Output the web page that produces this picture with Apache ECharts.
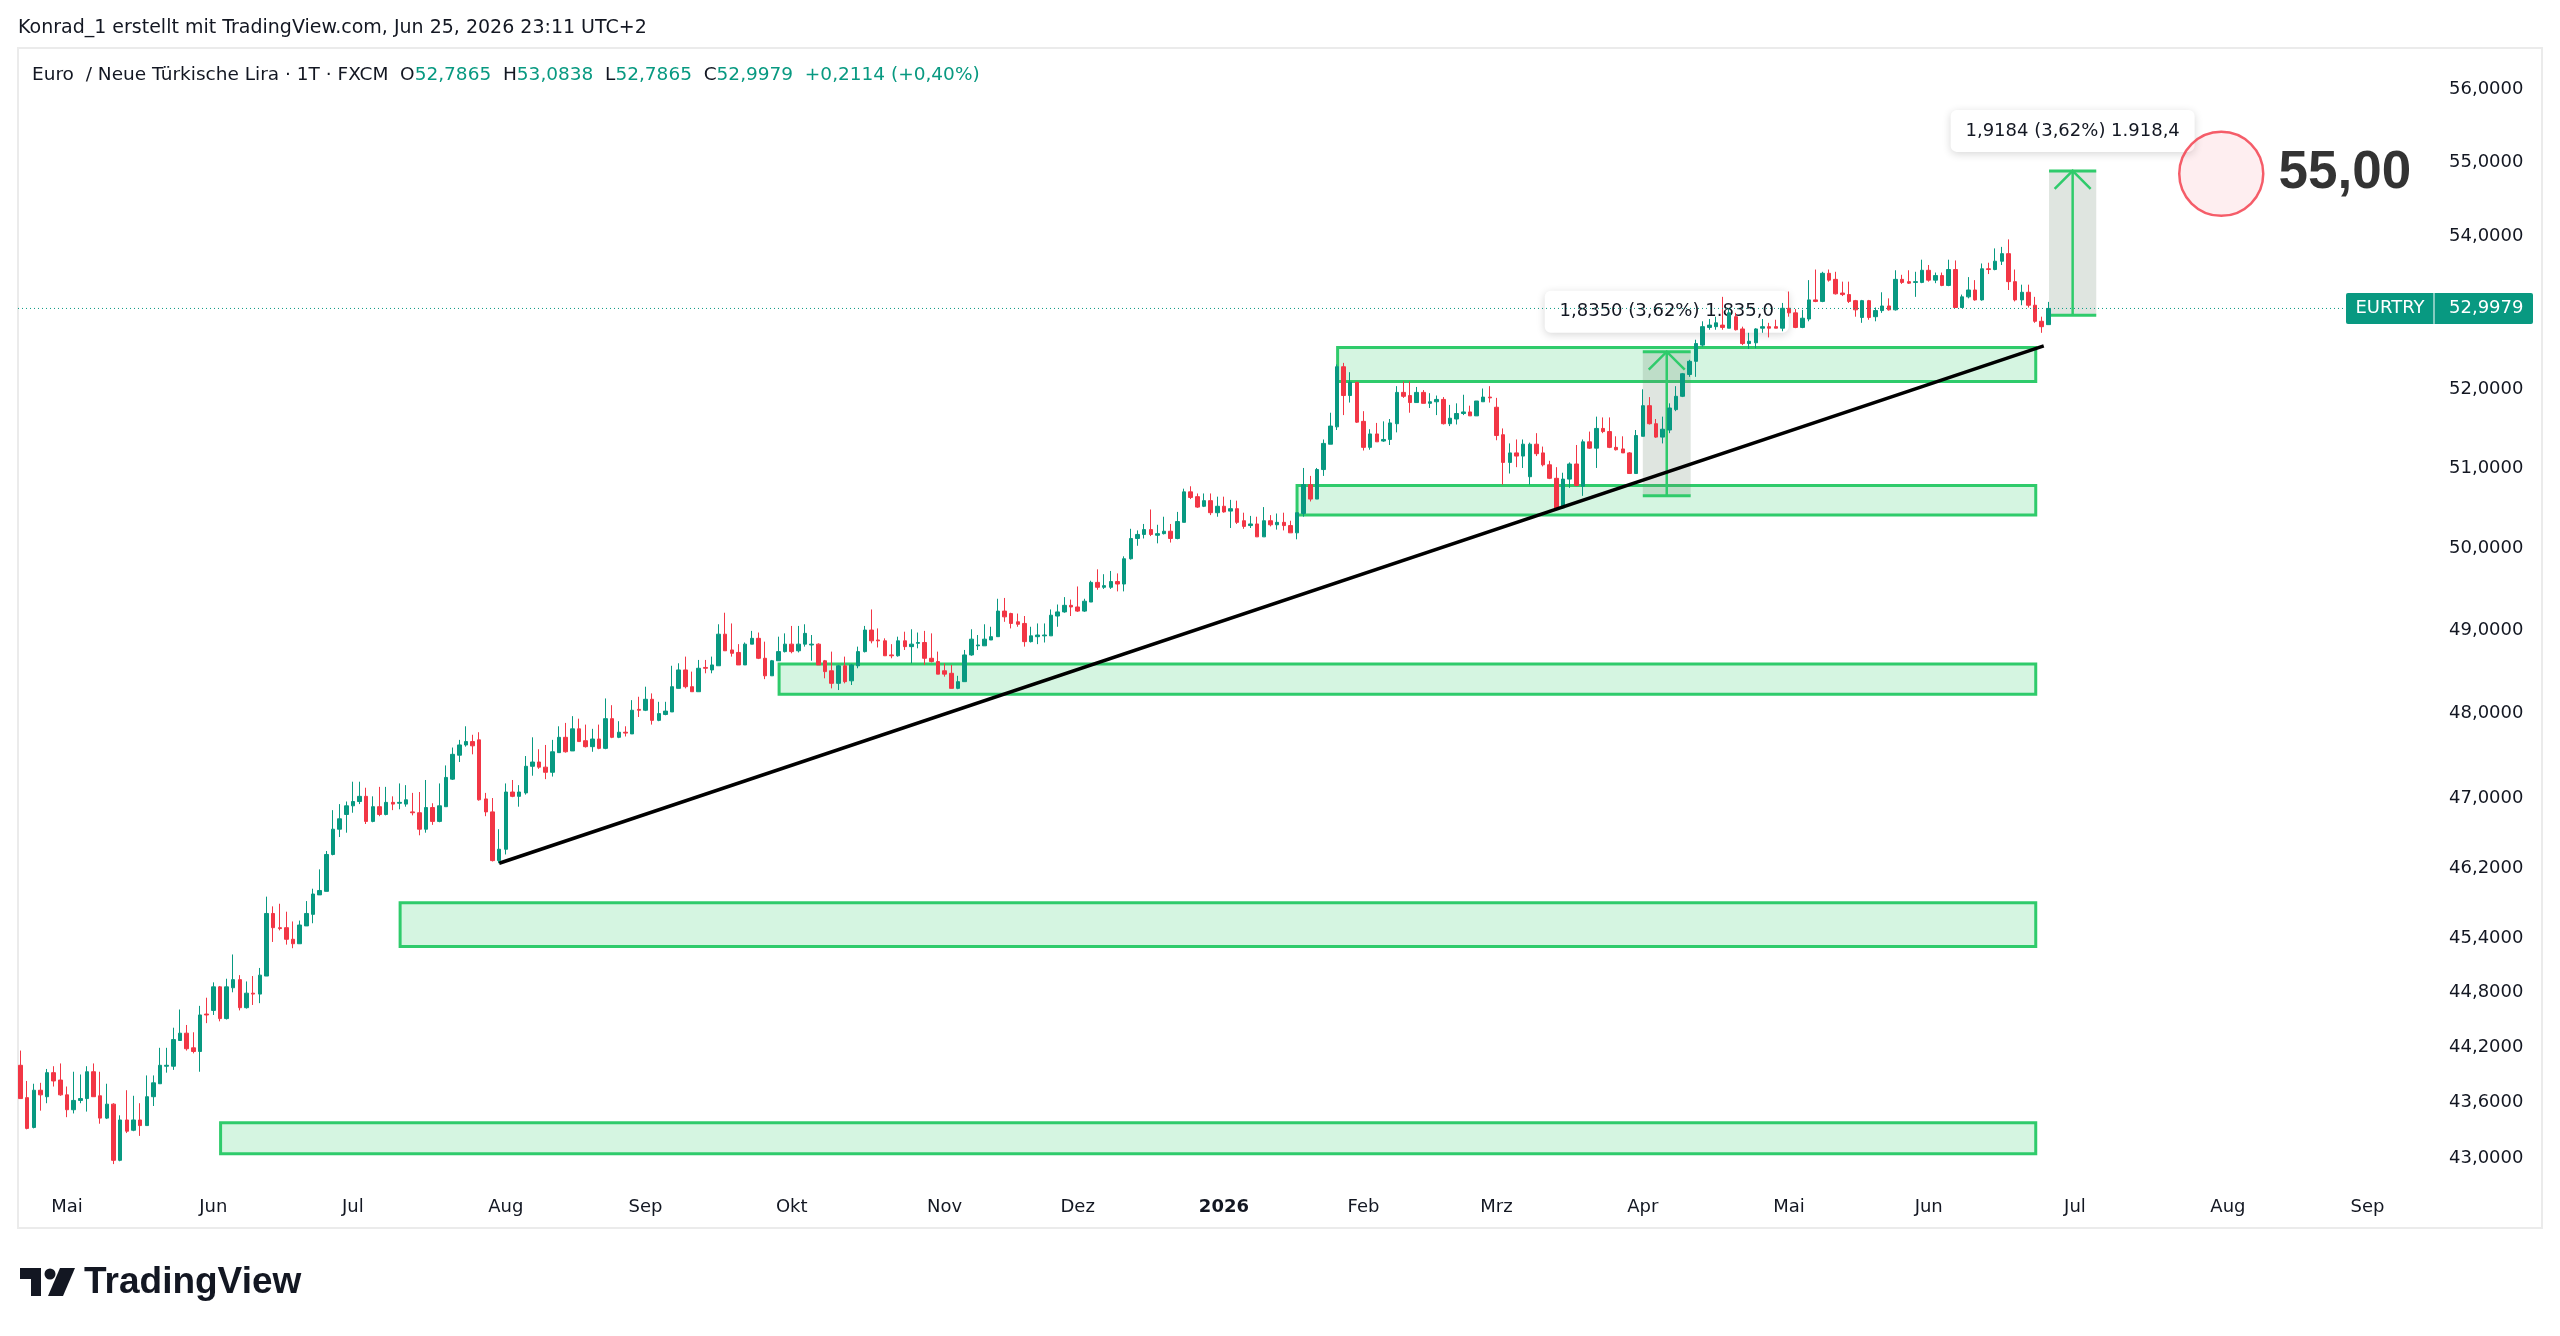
<!DOCTYPE html>
<html><head><meta charset="utf-8">
<script src="https://cdn.jsdelivr.net/npm/echarts@6/dist/echarts.min.js"></script>
<style>html,body{margin:0;padding:0;background:#fff;}#chart{width:2560px;height:1336px;}</style>
</head><body><div id="chart"></div>
<script>
// ---- daily candles EUR/TRY (FXCM), bar 0 = 22 Apr 2025, rows: [open, close, low, high]
const candleOHLC = [
[43.96,43.60,43.60,44.12],[43.61,43.28,43.27,43.79],[43.29,43.69,43.28,43.76],[43.69,43.64,43.47,43.77],[43.62,43.88,43.55,43.92],
[43.88,43.79,43.73,43.95],[43.80,43.64,43.63,43.98],[43.64,43.48,43.40,43.73],[43.48,43.58,43.44,43.89],[43.58,43.60,43.55,43.86],
[43.60,43.89,43.46,43.95],[43.89,43.62,43.62,43.98],[43.63,43.39,43.33,43.89],[43.39,43.54,43.38,43.76],[43.54,42.94,42.90,43.55],
[42.94,43.37,42.93,43.42],[43.37,43.25,43.23,43.69],[43.26,43.37,43.25,43.63],[43.37,43.31,43.20,43.55],[43.31,43.62,43.31,43.85],
[43.62,43.77,43.52,43.85],[43.76,43.96,43.76,44.15],[43.95,43.96,43.88,44.15],[43.95,44.24,43.91,44.37],[44.23,44.31,44.23,44.57],
[44.31,44.14,44.12,44.40],[44.15,44.11,44.09,44.32],[44.11,44.51,43.89,44.61],[44.52,44.51,44.42,44.70],[44.56,44.82,44.51,44.87],
[44.82,44.47,44.44,44.83],[44.47,44.82,44.46,44.91],[44.81,44.90,44.76,45.18],[44.90,44.59,44.56,44.95],[44.59,44.75,44.58,44.88],
[44.75,44.74,44.62,44.94],[44.74,44.95,44.64,45.03],[44.94,45.64,44.94,45.83],[45.64,45.48,45.32,45.72],[45.48,45.47,45.45,45.75],
[45.48,45.35,45.29,45.66],[45.35,45.30,45.25,45.55],[45.30,45.51,45.30,45.56],[45.50,45.64,45.50,45.78],[45.63,45.86,45.53,45.92],
[45.85,45.90,45.85,46.14],[45.89,46.31,45.89,46.35],[46.31,46.60,46.30,46.82],[46.60,46.72,46.51,46.89],[46.77,46.87,46.56,46.92],
[46.87,46.92,46.79,47.15],[46.92,46.98,46.89,47.15],[46.98,46.69,46.66,47.08],[46.69,46.86,46.68,46.98],[46.86,46.77,46.75,47.09],
[46.77,46.91,46.76,47.09],[46.91,46.89,46.82,46.98],[46.90,46.91,46.83,47.13],[46.89,46.94,46.86,47.11],[46.80,46.79,46.76,47.02],
[46.79,46.60,46.53,47.03],[46.60,46.85,46.56,47.17],[46.85,46.69,46.65,46.90],[46.69,46.87,46.68,47.13],[46.86,47.20,46.86,47.34],
[47.18,47.47,47.17,47.55],[47.46,47.58,47.38,47.64],[47.58,47.62,47.56,47.80],[47.62,47.57,47.47,47.70],[47.64,46.94,46.93,47.73],
[46.95,46.80,46.75,47.02],[46.80,46.24,46.23,46.96],[46.24,46.37,46.21,46.60],[46.37,47.03,46.31,47.13],[47.03,46.98,46.97,47.17],
[46.98,47.03,46.86,47.11],[47.02,47.33,47.00,47.45],[47.33,47.38,47.22,47.67],[47.38,47.32,47.30,47.53],[47.32,47.26,47.18,47.58],
[47.26,47.50,47.21,47.64],[47.49,47.67,47.49,47.80],[47.67,47.50,47.49,47.84],[47.51,47.77,47.51,47.92],[47.77,47.62,47.62,47.89],
[47.63,47.56,47.55,47.82],[47.56,47.65,47.50,47.77],[47.65,47.54,47.53,47.82],[47.54,47.89,47.53,48.13],[47.89,47.67,47.66,48.05],
[47.67,47.73,47.66,47.86],[47.73,47.72,47.68,47.80],[47.71,47.99,47.71,48.11],[48.00,47.99,47.91,48.15],[47.99,48.12,47.98,48.27],
[48.12,47.87,47.82,48.19],[47.87,47.95,47.86,48.09],[47.94,47.98,47.93,48.09],[47.97,48.27,47.97,48.52],[48.25,48.47,48.25,48.55],
[48.47,48.27,48.25,48.63],[48.27,48.21,48.21,48.45],[48.21,48.49,48.21,48.59],[48.50,48.49,48.43,48.59],[48.47,48.53,48.43,48.63],
[48.52,48.90,48.52,49.02],[48.90,48.70,48.70,49.16],[48.71,48.67,48.63,49.03],[48.68,48.53,48.53,48.78],[48.53,48.78,48.53,48.80],
[48.78,48.85,48.78,48.94],[48.85,48.61,48.60,48.92],[48.61,48.40,48.36,48.81],[48.40,48.58,48.40,48.59],[48.58,48.69,48.58,48.87],
[48.69,48.78,48.68,48.91],[48.78,48.69,48.67,49.00],[48.70,48.78,48.68,49.00],[48.78,48.91,48.75,49.02],[48.77,48.78,48.58,48.89],
[48.78,48.53,48.53,48.79],[48.58,48.45,48.37,48.59],[48.46,48.31,48.25,48.69],[48.31,48.52,48.23,48.53],[48.52,48.33,48.31,48.63],
[48.34,48.53,48.29,48.54],[48.52,48.69,48.49,48.75],[48.69,48.95,48.68,49.00],[48.95,48.82,48.79,49.20],[48.83,48.82,48.74,48.97],
[48.82,48.64,48.64,48.85],[48.65,48.64,48.61,48.78],[48.64,48.82,48.63,48.87],[48.82,48.75,48.71,48.93],[48.75,48.78,48.55,48.96],
[48.79,48.80,48.73,48.92],[48.80,48.61,48.53,48.94],[48.61,48.57,48.56,48.91],[48.57,48.42,48.42,48.69],[48.46,48.42,48.39,48.55],
[48.43,48.25,48.25,48.53],[48.25,48.33,48.24,48.40],[48.33,48.65,48.33,48.71],[48.65,48.84,48.64,48.96],[48.76,48.77,48.71,48.89],
[48.76,48.84,48.76,49.02],[48.83,48.87,48.83,48.99],[48.87,49.18,48.87,49.33],[49.18,49.11,49.05,49.34],[49.15,49.03,48.97,49.16],
[49.05,49.02,48.99,49.15],[49.03,48.81,48.75,49.12],[48.81,48.88,48.80,48.99],[48.87,48.89,48.78,49.03],[48.88,48.89,48.80,49.03],
[48.88,49.13,48.88,49.20],[49.12,49.17,48.99,49.26],[49.17,49.25,49.16,49.35],[49.25,49.23,49.12,49.32],[49.23,49.18,49.17,49.48],
[49.18,49.30,49.17,49.33],[49.29,49.53,49.29,49.55],[49.53,49.47,49.44,49.69],[49.47,49.49,49.45,49.63],[49.47,49.54,49.45,49.67],
[49.54,49.51,49.42,49.64],[49.51,49.82,49.42,49.85],[49.82,50.07,49.81,50.19],[50.07,50.12,49.98,50.17],[50.12,50.18,50.07,50.25],
[50.18,50.12,50.10,50.43],[50.11,50.13,50.01,50.24],[50.13,50.16,50.12,50.34],[50.16,50.07,50.02,50.25],[50.07,50.28,50.06,50.40],
[50.27,50.65,50.27,50.69],[50.65,50.58,50.56,50.72],[50.59,50.46,50.45,50.63],[50.47,50.54,50.46,50.63],[50.54,50.39,50.36,50.63],
[50.39,50.47,50.34,50.59],[50.47,50.40,50.39,50.59],[50.41,50.44,50.20,50.55],[50.44,50.27,50.25,50.54],[50.29,50.22,50.19,50.39],
[50.23,50.25,50.20,50.35],[50.25,50.09,50.09,50.34],[50.09,50.29,50.09,50.46],[50.29,50.24,50.22,50.36],[50.24,50.27,50.18,50.38],
[50.27,50.23,50.17,50.39],[50.23,50.14,50.14,50.29],[50.14,50.39,50.06,50.39],[50.38,50.74,50.34,50.95],[50.74,50.56,50.53,50.85],
[50.56,50.93,50.56,50.95],[50.93,51.26,50.85,51.31],[51.25,51.48,51.25,51.65],[51.47,52.24,51.43,52.27],[52.24,51.87,51.62,52.29],
[51.87,52.04,51.78,52.17],[52.04,51.53,51.52,52.04],[51.54,51.21,51.17,51.67],[51.21,51.38,51.18,51.44],[51.38,51.28,51.28,51.52],
[51.29,51.31,51.28,51.54],[51.31,51.52,51.24,51.57],[51.51,51.91,51.40,51.99],[51.91,51.86,51.84,52.05],[51.87,51.78,51.65,52.05],
[51.78,51.91,51.78,51.98],[51.91,51.77,51.77,51.94],[51.77,51.79,51.71,51.90],[51.79,51.82,51.62,51.87],[51.82,51.51,51.50,51.85],
[51.51,51.58,51.48,51.75],[51.57,51.64,51.50,51.77],[51.64,51.66,51.62,51.88],[51.66,51.61,51.61,51.74],[51.61,51.80,51.61,51.80],
[51.79,51.85,51.79,51.96],[51.85,51.84,51.78,51.99],[51.72,51.36,51.30,51.84],[51.37,51.02,50.74,51.45],[51.02,51.14,50.88,51.26],
[51.14,51.10,50.96,51.31],[51.10,51.25,50.95,51.31],[50.84,51.25,50.74,51.27],[51.25,51.13,51.10,51.39],[51.14,50.99,50.97,51.22],
[50.99,50.82,50.81,51.04],[50.82,50.43,50.42,50.96],[50.45,50.81,50.44,50.89],[50.81,51.00,50.70,51.02],[51.00,50.73,50.72,51.24],
[50.72,51.28,50.60,51.31],[51.28,51.20,51.19,51.41],[51.20,51.45,50.95,51.60],[51.45,51.41,51.39,51.59],[51.41,51.21,51.20,51.59],
[51.21,51.18,51.17,51.35],[51.19,51.14,51.14,51.35],[51.14,50.88,50.88,51.15],[50.88,51.36,50.88,51.43],[51.35,51.74,51.35,51.95],
[51.74,51.51,51.50,51.85],[51.51,51.34,51.33,51.57],[51.34,51.44,51.26,51.60],[51.43,51.71,51.39,51.77],[51.69,51.86,51.67,51.99],
[51.86,52.15,51.85,52.16],[52.14,52.31,52.11,52.33],[52.31,52.54,52.11,52.59],[52.52,52.76,52.50,52.83],[52.75,52.78,52.72,52.86],
[52.76,52.81,52.72,52.89],[52.78,52.75,52.72,53.15],[52.74,52.94,52.74,53.00],[52.89,52.72,52.71,52.94],[52.73,52.54,52.52,52.76],
[52.54,52.57,52.47,52.68],[52.55,52.73,52.48,52.74],[52.74,52.76,52.68,52.86],[52.76,52.74,52.62,52.81],[52.76,52.74,52.74,52.85],
[52.74,53.00,52.70,53.07],[53.00,52.94,52.89,53.22],[52.94,52.75,52.74,52.99],[52.75,52.87,52.74,52.98],[52.86,53.11,52.83,53.37],
[53.11,53.09,53.08,53.51],[53.09,53.46,53.08,53.48],[53.46,53.37,53.35,53.51],[53.38,53.19,53.18,53.48],[53.20,53.18,53.16,53.35],
[53.18,53.09,53.07,53.35],[53.10,52.98,52.89,53.11],[52.88,53.10,52.81,53.11],[53.10,52.88,52.85,53.11],[52.89,52.97,52.83,53.01],
[52.97,53.03,52.94,53.21],[53.03,52.98,52.97,53.13],[52.98,53.38,52.97,53.50],[53.38,53.34,53.32,53.44],[53.35,53.33,53.32,53.50],
[53.34,53.35,53.15,53.48],[53.34,53.50,53.33,53.64],[53.50,53.37,53.35,53.57],[53.37,53.43,53.33,53.47],[53.43,53.30,53.29,53.47],
[53.30,53.51,53.29,53.64],[53.51,53.01,53.01,53.63],[53.01,53.15,53.01,53.18],[53.15,53.24,53.13,53.41],[53.24,53.11,53.10,53.37],
[53.11,53.52,53.10,53.59],[53.52,53.51,53.45,53.60],[53.51,53.62,53.50,53.79],[53.62,53.72,53.57,53.81],[53.72,53.35,53.24,53.91],
[53.35,53.11,53.09,53.51],[53.11,53.21,53.04,53.31],[53.21,53.04,53.01,53.31],[53.04,52.83,52.81,53.15],[52.83,52.76,52.68,52.89],
[52.7865,52.9979,52.7865,53.0838]
];

// ---- axis ticks
const monthBars   = [7, 29, 50, 73, 94, 116, 139, 159, 181, 202, 222, 244, 266, 287, 309, 332, 353];
const monthLabels = ['Mai','Jun','Jul','Aug','Sep','Okt','Nov','Dez','2026','Feb','Mrz','Apr','Mai','Jun','Jul','Aug','Sep'];
const priceTicks  = [56, 55, 54, 52, 51, 50, 49, 48, 47, 46.2, 45.4, 44.8, 44.2, 43.6, 43];
const xRange = [-0.37, 363.9];
const priceRange = [42.70, 56.52];

// ---- drawings: horizontal zones [startBar, endBar, low, high]
const zoneStart = [30.1, 57.1, 114.1, 192.0, 198.1];
const zoneEnd   = [303.1, 303.1, 303.1, 303.1, 303.1];
const zoneLow   = [43.01, 45.27, 48.18, 50.36, 52.05];
const zoneHigh  = [43.34, 45.76, 48.54, 50.73, 52.49];

// trend line
const trendBars   = [72, 304.3];
const trendPrices = [46.21, 52.51];

// price range measurements
const measureStart = [244.0, 305.1];
const measureEnd   = [251.2, 312.2];
const measureLow   = [50.60, 52.91];
const measureHigh  = [52.435, 54.83];
const measureText  = ['1,8350 (3,62%) 1.835,0', '1,9184 (3,62%) 1.918,4'];

// target circle
const targetBar = [331];
const targetPrice = [54.79];
const targetText = ['55,00'];

const symbolName = 'EURTRY';

// ---------------------------------------------------------------
const L = Math.log;
const UP = '#089981', DOWN = '#F23645', GREEN = '#2fcb6b', INK = '#131722';
const FONT = "'DejaVu Sans', sans-serif";
const fmt4 = v => v.toFixed(4).replace('.', ',');
const last = candleOHLC[candleOHLC.length - 1];
const lastIdx = candleOHLC.length - 1;
const chg = last[1] - last[0];
const chgPct = chg / last[0] * 100;

const candleData = candleOHLC.map((r, i) => [i, L(r[0]), L(r[1]), L(r[2]), L(r[3])]);
const zoneData = zoneStart.map((s, i) => [s, zoneEnd[i], L(zoneLow[i]), L(zoneHigh[i])]);
const measureData = measureStart.map((s, i) => [s, measureEnd[i], L(measureLow[i]), L(measureHigh[i])]);

const chart = echarts.init(document.getElementById('chart'), null, {renderer: 'canvas'});

const LF = '18.5px ' + FONT;
const legendRich = '{d|Euro  / Neue Türkische Lira · 1T · FXCM  O}{g|' + fmt4(last[0]) +
  '}{d|  H}{g|' + fmt4(last[3]) + '}{d|  L}{g|' + fmt4(last[2]) + '}{d|  C}{g|' + fmt4(last[1]) +
  '}{g|  ' + (chg >= 0 ? '+' : '') + fmt4(chg) + ' (' + (chg >= 0 ? '+' : '') + chgPct.toFixed(2).replace('.', ',') + '%)}';

chart.setOption({
  animation: false,
  backgroundColor: '#ffffff',
  textStyle: {fontFamily: FONT},
  grid: {left: 18, right: 120, top: 48, bottom: 153},
  xAxis: {
    type: 'value', min: xRange[0], max: xRange[1],
    axisLine: {show: false}, axisTick: {show: false}, splitLine: {show: false},
    axisLabel: {
      customValues: monthBars, margin: 15, fontSize: 18, color: INK, fontFamily: FONT,
      formatter: v => { const k = monthBars.indexOf(v); const t = k >= 0 ? monthLabels[k] : ''; return /^\d{4}$/.test(t) ? '{b|' + t + '}' : t; },
      rich: {b: {fontWeight: 'bold', fontSize: 18, color: INK, fontFamily: FONT}}
    }
  },
  yAxis: {
    type: 'value', position: 'right', min: L(priceRange[0]), max: L(priceRange[1]),
    axisLine: {show: false}, axisTick: {show: false}, splitLine: {show: false},
    axisLabel: {
      customValues: priceTicks.map(L), margin: 9, color: INK,
      formatter: v => '{p|' + fmt4(Math.exp(v)) + '}',
      rich: {p: {fontSize: 18, fontFamily: FONT, color: INK, padding: [8, 0, 0, 0]}}
    }
  },
  graphic: [
    {type: 'rect', silent: true, z: -10, shape: {x: 18, y: 48, width: 2524, height: 1180},
     style: {fill: 'none', stroke: '#ebebeb', lineWidth: 2}},
    {type: 'text', silent: true, x: 18, y: 28,
     style: {text: 'Konrad_1 erstellt mit TradingView.com, Jun 25, 2026 23:11 UTC+2', font: '19px ' + FONT, fill: INK, verticalAlign: 'middle'}},
    {type: 'text', silent: true, x: 32, y: 75,
     style: {text: legendRich, verticalAlign: 'middle', font: LF,
       rich: {d: {fill: INK, font: LF}, g: {fill: UP, font: LF}}}},
    {type: 'group', silent: true, x: 20, y: 1268, children: [
      {type: 'polygon', shape: {points: [[0,0],[21,0],[21,28],[11,28],[11,11],[0,11]]}, style: {fill: INK}},
      {type: 'circle', shape: {cx: 30, cy: 6, r: 5.5}, style: {fill: INK}},
      {type: 'polygon', shape: {points: [[40,0],[55,0],[43,28],[28,28]]}, style: {fill: INK}}
    ]},
    {type: 'text', silent: true, x: 84, y: 1283,
     style: {text: 'TradingView', font: 'bold 37px "Liberation Sans", Arial, sans-serif', fill: INK, verticalAlign: 'middle'}}
  ],
  series: [
    {
      type: 'custom', name: 'zones', z: 1, silent: true, clip: false,
      data: zoneData,
      renderItem: (params, api) => {
        const a = api.coord([api.value(0), api.value(3)]);
        const b = api.coord([api.value(1), api.value(2)]);
        return {type: 'rect', shape: {x: a[0], y: a[1], width: b[0] - a[0], height: b[1] - a[1]},
          style: {fill: 'rgba(47,203,107,0.2)', stroke: GREEN, lineWidth: 3}};
      }
    },
    {
      type: 'custom', name: 'measures', z: 1, silent: true, clip: false,
      data: measureData,
      renderItem: (params, api) => {
        const i = params.dataIndex;
        const a = api.coord([api.value(0), api.value(3)]);
        const b = api.coord([api.value(1), api.value(2)]);
        const x0 = a[0], x1 = b[0], yT = a[1], yB = b[1], xc = (x0 + x1) / 2;
        const bw = 244, bh = 42, gap = 19;
        return {type: 'group', children: [
          {type: 'rect', shape: {x: x0, y: yT, width: x1 - x0, height: yB - yT}, style: {fill: 'rgba(110,135,115,0.22)'}},
          {type: 'line', shape: {x1: x0, y1: yT, x2: x1, y2: yT}, style: {stroke: GREEN, lineWidth: 3}},
          {type: 'line', shape: {x1: x0, y1: yB, x2: x1, y2: yB}, style: {stroke: GREEN, lineWidth: 3}},
          {type: 'line', shape: {x1: xc, y1: yB, x2: xc, y2: yT}, style: {stroke: GREEN, lineWidth: 2.5}},
          {type: 'polyline', shape: {points: [[xc - 18, yT + 18], [xc, yT], [xc + 18, yT + 18]]}, style: {stroke: GREEN, lineWidth: 2.5, fill: null}},
          {type: 'rect', shape: {x: xc - bw / 2, y: yT - gap - bh, width: bw, height: bh, r: 6},
           style: {fill: '#ffffff', shadowBlur: 8, shadowColor: 'rgba(0,0,0,0.16)', shadowOffsetY: 2}},
          {type: 'text', style: {text: measureText[i], x: xc, y: yT - gap - bh / 2, align: 'center', verticalAlign: 'middle',
            fill: INK, font: '18px ' + FONT}}
        ]};
      }
    },
    {
      type: 'candlestick', name: 'EURTRY', z: 2,
      data: candleData, encode: {x: 0, y: [1, 2, 3, 4]},
      barWidth: 4,
      itemStyle: {color: UP, color0: DOWN, borderColor: UP, borderColor0: DOWN, borderWidth: 1}
    },
    {
      type: 'line', name: 'trend', z: 4, silent: true, showSymbol: false, symbol: 'none',
      data: trendBars.map((b, i) => [b, L(trendPrices[i])]),
      lineStyle: {color: '#000000', width: 3.5}
    },
    {
      type: 'scatter', name: 'target', z: 5, silent: true,
      data: targetBar.map((b, i) => [b, L(targetPrice[i])]),
      symbol: 'circle', symbolSize: 84,
      itemStyle: {color: 'rgba(242,54,69,0.1)', borderColor: DOWN, borderWidth: 2.5},
      label: {show: true, position: 'right', distance: 14, formatter: p => targetText[p.dataIndex],
        fontSize: 53, fontWeight: 'bold', color: '#000000', fontFamily: '"Liberation Sans", Arial, sans-serif'}
    },
    {
      type: 'custom', name: 'lastPrice', z: 10, silent: true, clip: false,
      data: [[lastIdx, L(last[1])]],
      renderItem: (params, api) => {
        const pl = api.coord([xRange[0], api.value(1)]);
        const pr = api.coord([xRange[1], api.value(1)]);
        const y = pl[1], xr = pr[0];
        const boxL = xr - 94, boxR = xr + 93, h = 31;
        return {type: 'group', children: [
          {type: 'line', shape: {x1: pl[0], y1: y, x2: boxL, y2: y}, style: {stroke: UP, lineWidth: 1, lineDash: [1, 3]}},
          {type: 'rect', shape: {x: boxL, y: y - h / 2, width: boxR - boxL, height: h, r: 2}, style: {fill: UP}},
          {type: 'line', shape: {x1: xr - 6, y1: y - h / 2, x2: xr - 6, y2: y + h / 2}, style: {stroke: '#ffffff', lineWidth: 1}},
          {type: 'text', style: {text: symbolName, x: (boxL + xr - 6) / 2, y: y, align: 'center', verticalAlign: 'middle', fill: '#ffffff', font: '18px ' + FONT}},
          {type: 'text', style: {text: fmt4(last[1]), x: xr + 9, y: y, align: 'left', verticalAlign: 'middle', fill: '#ffffff', font: '18px ' + FONT}}
        ]};
      }
    }
  ]
});
</script>
</body></html>
